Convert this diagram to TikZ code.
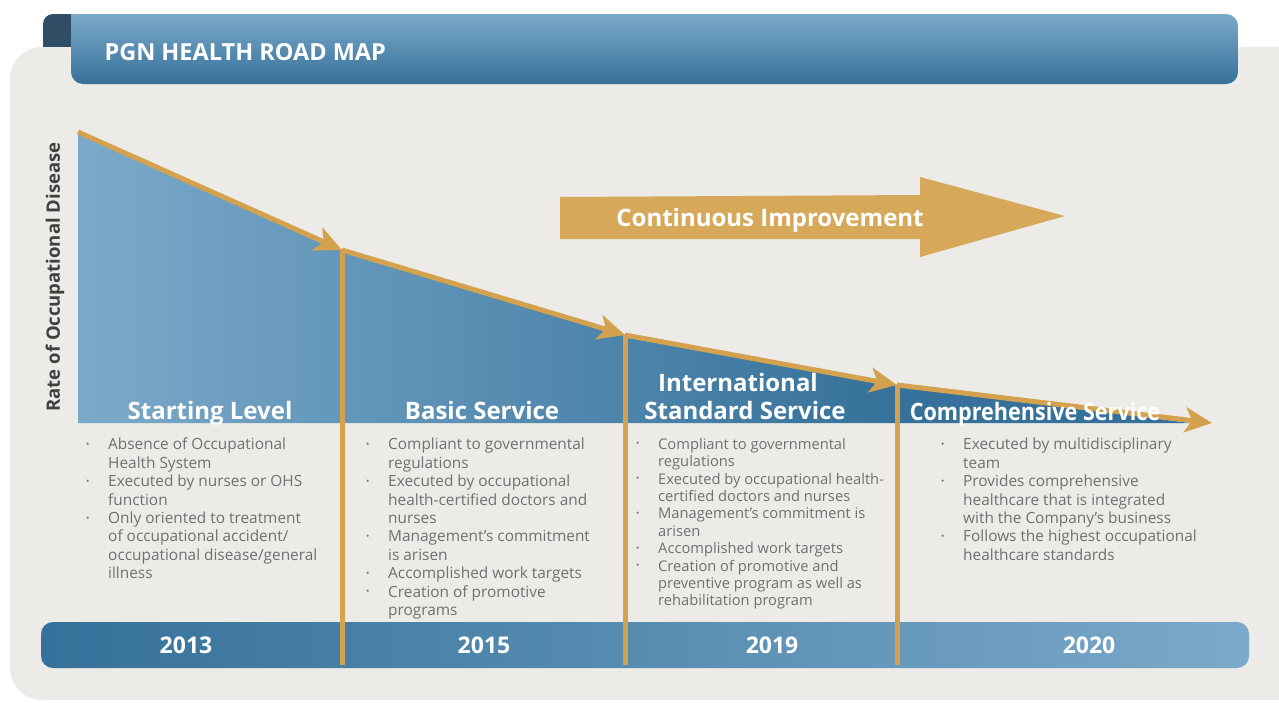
\documentclass[tikz,border=0pt]{standalone}
\usepackage{fontspec}
\setmainfont{Open Sans}
\usetikzlibrary{arrows.meta}
\definecolor{panelgrey}{HTML}{ECEBE7}
\definecolor{tabdark}{HTML}{2F4E66}
\definecolor{bluelight}{HTML}{7BA9C9}
\definecolor{bluedark}{HTML}{35719A}
\definecolor{gold}{HTML}{D4A24E}
\definecolor{goldfill}{HTML}{D6A95A}
\definecolor{bodygrey}{HTML}{707070}
\definecolor{axisgrey}{HTML}{404040}
\newcommand{\bitem}{\makebox[24pt][l]{\hspace{2pt}\raisebox{2.5pt}{\fontsize{9}{9}\selectfont\textbullet}}}
\newcommand{\bcont}{\hspace*{24pt}}

\begin{document}
\begin{tikzpicture}[x=1pt,y=-1pt,
  stage/.style={text=white,font=\fontsize{24}{28}\selectfont\bfseries,align=center,inner sep=0pt},
  year/.style={text=white,font=\fontsize{23}{23}\selectfont\bfseries},
  items/.style={anchor=north west,inner sep=0pt,align=left,text=bodygrey,font=\fontsize{15.4}{18.4}\selectfont},
  gold line/.style={draw=gold,line width=5pt},
  gold arrow/.style={gold line,-{Stealth[length=27pt,width=25pt,inset=7pt]}}]
\useasboundingbox (0,0) rectangle (1279,702);

\fill[tabdark,rounded corners=10] (43,14) rectangle (90,60);
\fill[panelgrey,rounded corners=32] (10,47) rectangle (1320,700);
\shade[top color=bluelight,middle color=bluedark,bottom color=bluedark]
  (71,14) -- (1226,14) arc[start angle=-90,end angle=0,radius=12] -- (1238,72)
  arc[start angle=0,end angle=90,radius=12] -- (83,84)
  arc[start angle=90,end angle=180,radius=12] -- cycle;
\node[anchor=base west,text=white,font=\fontsize{23.5}{23.5}\selectfont\bfseries] (title) at (101,60) {PGN HEALTH ROAD MAP};

\coordinate (p0) at (78,132);
\coordinate (p1) at (342,250);
\coordinate (p2) at (625,335);
\coordinate (p3) at (897,385);
\coordinate (p4) at (1212,423);
\coordinate (b1) at (342,665);
\coordinate (b2) at (625,665);
\coordinate (b3) at (897,665);

\begin{scope}
\clip (p0) -- (p1) -- (p2) -- (p3) -- (1190,423) -- (78,423) -- cycle;
\shade[left color=bluelight,right color=bluedark] (78,120) rectangle (900,430);
\fill[bluedark] (899,120) rectangle (1220,430);
\end{scope}

\shade[left color=bluedark,middle color=bluedark!70!bluelight,right color=bluelight,rounded corners=12] (41,622) rectangle (1249,668);

\draw[gold line] (p1) -- (b1);
\draw[gold line] (p2) -- (b2);
\draw[gold line] (p3) -- (b3);
\draw[gold arrow] (p0) -- (p1);
\draw[gold arrow] (p1) -- (p2);
\draw[gold arrow] (p2) -- (p3);
\draw[gold arrow] (p3) -- (p4);

\fill[goldfill] (560,197) -- (920,195) -- (920,177) -- (1065,216) -- (920,257) -- (920,239) -- (560,239) -- cycle;
\node[text=white,font=\fontsize{24}{24}\selectfont\bfseries] (improve) at (770,220) {Continuous Improvement};

\node[rotate=90,text=axisgrey,font=\fontsize{18.5}{18.5}\selectfont\bfseries] (ylabel) at (55,277) {Rate of Occupational Disease};

\node[stage,anchor=base] (s1) at (210,419) {Starting Level};
\node[stage,anchor=base] (s2) at (482,419) {Basic Service};
\node[stage,anchor=south] (s3) at (745,420) {International\hspace*{14pt}\\Standard Service};
\node[stage,anchor=base] (s4) at (1035,420) {\scalebox{0.9}[1]{Comprehensive Service}};

\node[items] (l1) at (84,438) {\bitem Absence of Occupational\\\bcont Health System\\
  \bitem Executed by nurses or OHS\\\bcont function\\
  \bitem Only oriented to treatment\\\bcont of occupational accident/\\\bcont occupational disease/general\\\bcont illness};
\node[items] (l2) at (364,438) {\bitem Compliant to governmental\\\bcont regulations\\
  \bitem Executed by occupational\\\bcont health-certified doctors and\\\bcont nurses\\
  \bitem Management’s commitment\\\bcont is arisen\\
  \bitem Accomplished work targets\\
  \bitem Creation of promotive\\\bcont programs};
\node[items,font=\fontsize{14.7}{17.4}\selectfont] (l3) at (634,438) {\bitem Compliant to governmental\\\bcont regulations\\
  \bitem Executed by occupational health-\\\bcont certified doctors and nurses\\
  \bitem Management’s commitment is\\\bcont arisen\\
  \bitem Accomplished work targets\\
  \bitem Creation of promotive and\\\bcont preventive program as well as\\\bcont rehabilitation program};
\node[items] (l4) at (939,438) {\bitem Executed by multidisciplinary\\\bcont team\\
  \bitem Provides comprehensive\\\bcont healthcare that is integrated\\\bcont with the Company’s business\\
  \bitem Follows the highest occupational\\\bcont healthcare standards};

\node[year] (y1) at (186,645) {2013};
\node[year] (y2) at (484,645) {2015};
\node[year] (y3) at (772,645) {2019};
\node[year] (y4) at (1089,645) {2020};
\end{tikzpicture}
\end{document}
